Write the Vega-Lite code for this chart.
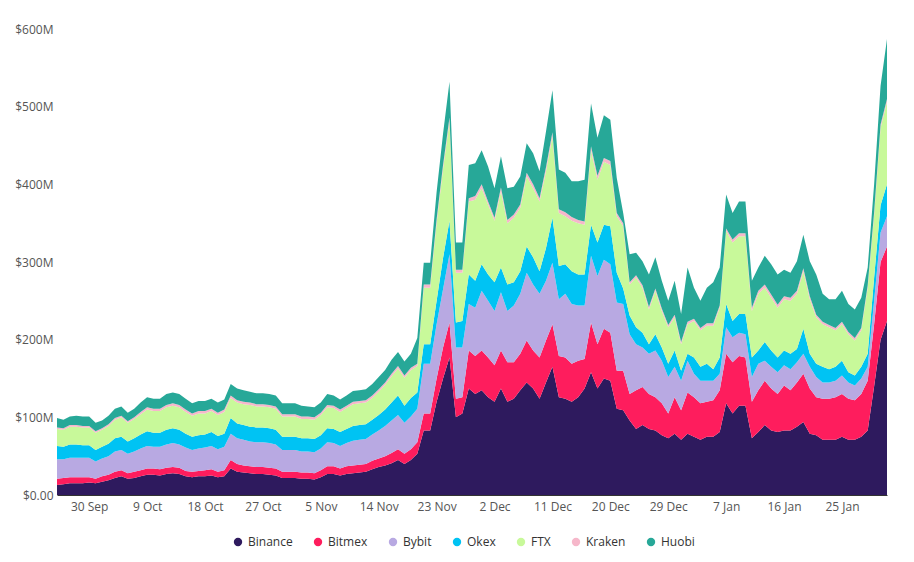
{
"$schema":"https://vega.github.io/schema/vega-lite/v6.json",
"width":830,"height":466,
"padding":{"left":14,"top":23,"right":20,"bottom":5},
"config":{"font":"Open Sans","view":{"stroke":null}},
"data":{"values":[
{"d":"2020-09-25","Binance":13,"Bitmex":8,"Bybit":25,"Okex":17,"FTX":22,"Kraken":2,"Huobi":12},
{"d":"2020-09-26","Binance":14,"Bitmex":8,"Bybit":24,"Okex":16,"FTX":22,"Kraken":2,"Huobi":11},
{"d":"2020-09-27","Binance":15,"Bitmex":8,"Bybit":25,"Okex":17,"FTX":23,"Kraken":2,"Huobi":11},
{"d":"2020-09-28","Binance":15,"Bitmex":8,"Bybit":25,"Okex":17,"FTX":23,"Kraken":2,"Huobi":12},
{"d":"2020-09-29","Binance":15,"Bitmex":8,"Bybit":25,"Okex":16,"FTX":23,"Kraken":2,"Huobi":12},
{"d":"2020-09-30","Binance":16,"Bitmex":7,"Bybit":25,"Okex":16,"FTX":23,"Kraken":2,"Huobi":12},
{"d":"2020-10-01","Binance":15,"Bitmex":6,"Bybit":22,"Okex":15,"FTX":22,"Kraken":2,"Huobi":11},
{"d":"2020-10-02","Binance":17,"Bitmex":7,"Bybit":23,"Okex":15,"FTX":22,"Kraken":2,"Huobi":10},
{"d":"2020-10-03","Binance":19,"Bitmex":7,"Bybit":24,"Okex":16,"FTX":23,"Kraken":2,"Huobi":11},
{"d":"2020-10-04","Binance":22,"Bitmex":8,"Bybit":26,"Okex":17,"FTX":24,"Kraken":2,"Huobi":12},
{"d":"2020-10-05","Binance":24,"Bitmex":8,"Bybit":26,"Okex":17,"FTX":25,"Kraken":2,"Huobi":12},
{"d":"2020-10-06","Binance":21,"Bitmex":7,"Bybit":25,"Okex":16,"FTX":24,"Kraken":2,"Huobi":11},
{"d":"2020-10-07","Binance":22,"Bitmex":8,"Bybit":26,"Okex":17,"FTX":25,"Kraken":2,"Huobi":11},
{"d":"2020-10-08","Binance":24,"Bitmex":8,"Bybit":28,"Okex":18,"FTX":26,"Kraken":3,"Huobi":12},
{"d":"2020-10-09","Binance":26,"Bitmex":8,"Bybit":29,"Okex":19,"FTX":28,"Kraken":3,"Huobi":13},
{"d":"2020-10-10","Binance":26,"Bitmex":8,"Bybit":28,"Okex":18,"FTX":28,"Kraken":3,"Huobi":13},
{"d":"2020-10-11","Binance":25,"Bitmex":8,"Bybit":29,"Okex":18,"FTX":28,"Kraken":3,"Huobi":13},
{"d":"2020-10-12","Binance":27,"Bitmex":8,"Bybit":30,"Okex":19,"FTX":29,"Kraken":3,"Huobi":14},
{"d":"2020-10-13","Binance":28,"Bitmex":8,"Bybit":31,"Okex":19,"FTX":29,"Kraken":3,"Huobi":14},
{"d":"2020-10-14","Binance":27,"Bitmex":8,"Bybit":30,"Okex":19,"FTX":29,"Kraken":3,"Huobi":14},
{"d":"2020-10-15","Binance":24,"Bitmex":7,"Bybit":30,"Okex":18,"FTX":28,"Kraken":3,"Huobi":14},
{"d":"2020-10-16","Binance":23,"Bitmex":7,"Bybit":28,"Okex":17,"FTX":27,"Kraken":3,"Huobi":13},
{"d":"2020-10-17","Binance":24,"Bitmex":7,"Bybit":29,"Okex":17,"FTX":28,"Kraken":3,"Huobi":13},
{"d":"2020-10-18","Binance":24,"Bitmex":8,"Bybit":29,"Okex":17,"FTX":27,"Kraken":3,"Huobi":13},
{"d":"2020-10-19","Binance":25,"Bitmex":8,"Bybit":30,"Okex":18,"FTX":27,"Kraken":3,"Huobi":13},
{"d":"2020-10-20","Binance":23,"Bitmex":7,"Bybit":29,"Okex":17,"FTX":27,"Kraken":3,"Huobi":13},
{"d":"2020-10-21","Binance":24,"Bitmex":8,"Bybit":30,"Okex":17,"FTX":28,"Kraken":3,"Huobi":13},
{"d":"2020-10-22","Binance":34,"Bitmex":11,"Bybit":34,"Okex":20,"FTX":26,"Kraken":3,"Huobi":15},
{"d":"2020-10-23","Binance":30,"Bitmex":10,"Bybit":33,"Okex":19,"FTX":27,"Kraken":3,"Huobi":15},
{"d":"2020-10-24","Binance":29,"Bitmex":9,"Bybit":33,"Okex":19,"FTX":27,"Kraken":3,"Huobi":15},
{"d":"2020-10-25","Binance":28,"Bitmex":9,"Bybit":32,"Okex":19,"FTX":28,"Kraken":3,"Huobi":14},
{"d":"2020-10-26","Binance":27,"Bitmex":9,"Bybit":32,"Okex":19,"FTX":27,"Kraken":3,"Huobi":14},
{"d":"2020-10-27","Binance":27,"Bitmex":9,"Bybit":32,"Okex":19,"FTX":27,"Kraken":3,"Huobi":14},
{"d":"2020-10-28","Binance":26,"Bitmex":9,"Bybit":32,"Okex":19,"FTX":27,"Kraken":3,"Huobi":14},
{"d":"2020-10-29","Binance":25,"Bitmex":9,"Bybit":31,"Okex":19,"FTX":27,"Kraken":3,"Huobi":14},
{"d":"2020-10-30","Binance":22,"Bitmex":8,"Bybit":28,"Okex":17,"FTX":26,"Kraken":3,"Huobi":14},
{"d":"2020-10-31","Binance":22,"Bitmex":8,"Bybit":28,"Okex":17,"FTX":26,"Kraken":3,"Huobi":14},
{"d":"2020-11-01","Binance":22,"Bitmex":8,"Bybit":28,"Okex":17,"FTX":26,"Kraken":3,"Huobi":14},
{"d":"2020-11-02","Binance":21,"Bitmex":8,"Bybit":27,"Okex":17,"FTX":25,"Kraken":3,"Huobi":14},
{"d":"2020-11-03","Binance":21,"Bitmex":8,"Bybit":27,"Okex":17,"FTX":25,"Kraken":3,"Huobi":13},
{"d":"2020-11-04","Binance":20,"Bitmex":8,"Bybit":27,"Okex":17,"FTX":25,"Kraken":3,"Huobi":13},
{"d":"2020-11-05","Binance":23,"Bitmex":9,"Bybit":28,"Okex":17,"FTX":26,"Kraken":3,"Huobi":13},
{"d":"2020-11-06","Binance":27,"Bitmex":10,"Bybit":31,"Okex":18,"FTX":27,"Kraken":3,"Huobi":14},
{"d":"2020-11-07","Binance":27,"Bitmex":10,"Bybit":30,"Okex":18,"FTX":27,"Kraken":3,"Huobi":13},
{"d":"2020-11-08","Binance":25,"Bitmex":9,"Bybit":29,"Okex":18,"FTX":26,"Kraken":3,"Huobi":13},
{"d":"2020-11-09","Binance":27,"Bitmex":10,"Bybit":30,"Okex":18,"FTX":27,"Kraken":3,"Huobi":13},
{"d":"2020-11-10","Binance":28,"Bitmex":10,"Bybit":32,"Okex":19,"FTX":28,"Kraken":3,"Huobi":14},
{"d":"2020-11-11","Binance":29,"Bitmex":10,"Bybit":32,"Okex":19,"FTX":28,"Kraken":3,"Huobi":14},
{"d":"2020-11-12","Binance":30,"Bitmex":10,"Bybit":32,"Okex":19,"FTX":28,"Kraken":3,"Huobi":14},
{"d":"2020-11-13","Binance":33,"Bitmex":11,"Bybit":34,"Okex":19,"FTX":28,"Kraken":3,"Huobi":15},
{"d":"2020-11-14","Binance":36,"Bitmex":11,"Bybit":36,"Okex":20,"FTX":30,"Kraken":3,"Huobi":16},
{"d":"2020-11-15","Binance":38,"Bitmex":12,"Bybit":39,"Okex":21,"FTX":32,"Kraken":3,"Huobi":16},
{"d":"2020-11-16","Binance":41,"Bitmex":13,"Bybit":42,"Okex":23,"FTX":34,"Kraken":3,"Huobi":18},
{"d":"2020-11-17","Binance":45,"Bitmex":14,"Bybit":44,"Okex":25,"FTX":35,"Kraken":3,"Huobi":18},
{"d":"2020-11-18","Binance":40,"Bitmex":13,"Bybit":40,"Okex":22,"FTX":36,"Kraken":3,"Huobi":18},
{"d":"2020-11-19","Binance":45,"Bitmex":14,"Bybit":42,"Okex":24,"FTX":36,"Kraken":3,"Huobi":18},
{"d":"2020-11-20","Binance":53,"Bitmex":15,"Bybit":43,"Okex":21,"FTX":34,"Kraken":3,"Huobi":33},
{"d":"2020-11-21","Binance":83,"Bitmex":22,"Bybit":64,"Okex":25,"FTX":73,"Kraken":4,"Huobi":28},
{"d":"2020-11-22","Binance":83,"Bitmex":22,"Bybit":64,"Okex":25,"FTX":73,"Kraken":4,"Huobi":28},
{"d":"2020-11-23","Binance":120,"Bitmex":30,"Bybit":70,"Okex":30,"FTX":100,"Kraken":5,"Huobi":35},
{"d":"2020-11-24","Binance":150,"Bitmex":40,"Bybit":75,"Okex":40,"FTX":115,"Kraken":5,"Huobi":40},
{"d":"2020-11-25","Binance":177,"Bitmex":45,"Bybit":88,"Okex":43,"FTX":128,"Kraken":5,"Huobi":46},
{"d":"2020-11-26","Binance":100,"Bitmex":24,"Bybit":66,"Okex":32,"FTX":64,"Kraken":4,"Huobi":35},
{"d":"2020-11-27","Binance":105,"Bitmex":21,"Bybit":64,"Okex":34,"FTX":62,"Kraken":4,"Huobi":35},
{"d":"2020-11-28","Binance":137,"Bitmex":49,"Bybit":60,"Okex":38,"FTX":94,"Kraken":4,"Huobi":43},
{"d":"2020-11-29","Binance":130,"Bitmex":49,"Bybit":62,"Okex":35,"FTX":104,"Kraken":5,"Huobi":42},
{"d":"2020-11-30","Binance":135,"Bitmex":51,"Bybit":77,"Okex":34,"FTX":98,"Kraken":5,"Huobi":44},
{"d":"2020-12-01","Binance":126,"Bitmex":51,"Bybit":73,"Okex":34,"FTX":90,"Kraken":4,"Huobi":45},
{"d":"2020-12-02","Binance":120,"Bitmex":47,"Bybit":70,"Okex":37,"FTX":79,"Kraken":4,"Huobi":38},
{"d":"2020-12-03","Binance":137,"Bitmex":49,"Bybit":75,"Okex":32,"FTX":98,"Kraken":5,"Huobi":40},
{"d":"2020-12-04","Binance":120,"Bitmex":51,"Bybit":66,"Okex":34,"FTX":79,"Kraken":4,"Huobi":41},
{"d":"2020-12-05","Binance":124,"Bitmex":47,"Bybit":73,"Okex":30,"FTX":83,"Kraken":4,"Huobi":36},
{"d":"2020-12-06","Binance":135,"Bitmex":47,"Bybit":77,"Okex":29,"FTX":82,"Kraken":4,"Huobi":36},
{"d":"2020-12-07","Binance":145,"Bitmex":54,"Bybit":87,"Okex":34,"FTX":90,"Kraken":5,"Huobi":38},
{"d":"2020-12-08","Binance":137,"Bitmex":49,"Bybit":85,"Okex":35,"FTX":89,"Kraken":5,"Huobi":40},
{"d":"2020-12-09","Binance":124,"Bitmex":53,"Bybit":82,"Okex":29,"FTX":90,"Kraken":4,"Huobi":35},
{"d":"2020-12-10","Binance":145,"Bitmex":54,"Bybit":77,"Okex":42,"FTX":99,"Kraken":5,"Huobi":46},
{"d":"2020-12-11","Binance":165,"Bitmex":55,"Bybit":79,"Okex":58,"FTX":105,"Kraken":5,"Huobi":54},
{"d":"2020-12-12","Binance":126,"Bitmex":53,"Bybit":73,"Okex":43,"FTX":68,"Kraken":5,"Huobi":51},
{"d":"2020-12-13","Binance":124,"Bitmex":53,"Bybit":82,"Okex":38,"FTX":62,"Kraken":5,"Huobi":51},
{"d":"2020-12-14","Binance":120,"Bitmex":49,"Bybit":77,"Okex":42,"FTX":65,"Kraken":5,"Huobi":46},
{"d":"2020-12-15","Binance":126,"Bitmex":47,"Bybit":71,"Okex":40,"FTX":66,"Kraken":4,"Huobi":50},
{"d":"2020-12-16","Binance":137,"Bitmex":38,"Bybit":69,"Okex":40,"FTX":64,"Kraken":4,"Huobi":54},
{"d":"2020-12-17","Binance":158,"Bitmex":64,"Bybit":86,"Okex":40,"FTX":96,"Kraken":5,"Huobi":55},
{"d":"2020-12-18","Binance":137,"Bitmex":57,"Bybit":88,"Okex":43,"FTX":81,"Kraken":5,"Huobi":49},
{"d":"2020-12-19","Binance":150,"Bitmex":64,"Bybit":89,"Okex":45,"FTX":81,"Kraken":5,"Huobi":55},
{"d":"2020-12-20","Binance":147,"Bitmex":62,"Bybit":88,"Okex":49,"FTX":79,"Kraken":5,"Huobi":53},
{"d":"2020-12-21","Binance":111,"Bitmex":49,"Bybit":88,"Okex":38,"FTX":73,"Kraken":4,"Huobi":45},
{"d":"2020-12-22","Binance":109,"Bitmex":51,"Bybit":86,"Okex":20,"FTX":80,"Kraken":4,"Huobi":13},
{"d":"2020-12-23","Binance":96,"Bitmex":34,"Bybit":77,"Okex":24,"FTX":40,"Kraken":3,"Huobi":36},
{"d":"2020-12-24","Binance":85,"Bitmex":50,"Bybit":59,"Okex":22,"FTX":64,"Kraken":3,"Huobi":29},
{"d":"2020-12-25","Binance":90,"Bitmex":49,"Bybit":51,"Okex":19,"FTX":58,"Kraken":3,"Huobi":31},
{"d":"2020-12-26","Binance":85,"Bitmex":45,"Bybit":52,"Okex":12,"FTX":45,"Kraken":3,"Huobi":42},
{"d":"2020-12-27","Binance":83,"Bitmex":43,"Bybit":60,"Okex":21,"FTX":56,"Kraken":3,"Huobi":40},
{"d":"2020-12-28","Binance":77,"Bitmex":41,"Bybit":55,"Okex":17,"FTX":47,"Kraken":3,"Huobi":36},
{"d":"2020-12-29","Binance":73,"Bitmex":32,"Bybit":47,"Okex":17,"FTX":47,"Kraken":3,"Huobi":31},
{"d":"2020-12-30","Binance":79,"Bitmex":47,"Bybit":39,"Okex":21,"FTX":43,"Kraken":3,"Huobi":44},
{"d":"2020-12-31","Binance":71,"Bitmex":38,"Bybit":38,"Okex":13,"FTX":34,"Kraken":3,"Huobi":36},
{"d":"2021-01-01","Binance":79,"Bitmex":53,"Bybit":41,"Okex":9,"FTX":38,"Kraken":3,"Huobi":70},
{"d":"2021-01-02","Binance":75,"Bitmex":51,"Bybit":30,"Okex":21,"FTX":47,"Kraken":3,"Huobi":40},
{"d":"2021-01-03","Binance":71,"Bitmex":47,"Bybit":29,"Okex":18,"FTX":47,"Kraken":3,"Huobi":35},
{"d":"2021-01-04","Binance":75,"Bitmex":45,"Bybit":27,"Okex":22,"FTX":49,"Kraken":3,"Huobi":46},
{"d":"2021-01-05","Binance":75,"Bitmex":47,"Bybit":25,"Okex":15,"FTX":56,"Kraken":3,"Huobi":53},
{"d":"2021-01-06","Binance":81,"Bitmex":54,"Bybit":21,"Okex":21,"FTX":64,"Kraken":3,"Huobi":49},
{"d":"2021-01-07","Binance":118,"Bitmex":64,"Bybit":34,"Okex":30,"FTX":94,"Kraken":3,"Huobi":44},
{"d":"2021-01-08","Binance":105,"Bitmex":66,"Bybit":32,"Okex":21,"FTX":101,"Kraken":4,"Huobi":34},
{"d":"2021-01-09","Binance":115,"Bitmex":64,"Bybit":30,"Okex":24,"FTX":100,"Kraken":4,"Huobi":41},
{"d":"2021-01-10","Binance":115,"Bitmex":62,"Bybit":30,"Okex":26,"FTX":100,"Kraken":4,"Huobi":41},
{"d":"2021-01-11","Binance":73,"Bitmex":47,"Bybit":32,"Okex":25,"FTX":60,"Kraken":4,"Huobi":35},
{"d":"2021-01-12","Binance":81,"Bitmex":54,"Bybit":34,"Okex":17,"FTX":73,"Kraken":4,"Huobi":30},
{"d":"2021-01-13","Binance":90,"Bitmex":57,"Bybit":26,"Okex":24,"FTX":70,"Kraken":4,"Huobi":37},
{"d":"2021-01-14","Binance":83,"Bitmex":54,"Bybit":28,"Okex":21,"FTX":68,"Kraken":4,"Huobi":39},
{"d":"2021-01-15","Binance":81,"Bitmex":49,"Bybit":28,"Okex":19,"FTX":64,"Kraken":4,"Huobi":39},
{"d":"2021-01-16","Binance":83,"Bitmex":58,"Bybit":26,"Okex":19,"FTX":66,"Kraken":4,"Huobi":34},
{"d":"2021-01-17","Binance":83,"Bitmex":52,"Bybit":27,"Okex":20,"FTX":68,"Kraken":4,"Huobi":32},
{"d":"2021-01-18","Binance":88,"Bitmex":57,"Bybit":26,"Okex":17,"FTX":71,"Kraken":4,"Huobi":38},
{"d":"2021-01-19","Binance":94,"Bitmex":62,"Bybit":26,"Okex":32,"FTX":74,"Kraken":4,"Huobi":43},
{"d":"2021-01-20","Binance":79,"Bitmex":58,"Bybit":28,"Okex":17,"FTX":70,"Kraken":4,"Huobi":45},
{"d":"2021-01-21","Binance":77,"Bitmex":49,"Bybit":26,"Okex":17,"FTX":60,"Kraken":3,"Huobi":52},
{"d":"2021-01-22","Binance":71,"Bitmex":53,"Bybit":21,"Okex":20,"FTX":55,"Kraken":3,"Huobi":36},
{"d":"2021-01-23","Binance":71,"Bitmex":53,"Bybit":21,"Okex":17,"FTX":54,"Kraken":3,"Huobi":33},
{"d":"2021-01-24","Binance":71,"Bitmex":55,"Bybit":21,"Okex":18,"FTX":47,"Kraken":3,"Huobi":37},
{"d":"2021-01-25","Binance":75,"Bitmex":55,"Bybit":24,"Okex":19,"FTX":47,"Kraken":3,"Huobi":40},
{"d":"2021-01-26","Binance":71,"Bitmex":53,"Bybit":21,"Okex":13,"FTX":49,"Kraken":3,"Huobi":36},
{"d":"2021-01-27","Binance":71,"Bitmex":51,"Bybit":19,"Okex":13,"FTX":45,"Kraken":3,"Huobi":37},
{"d":"2021-01-28","Binance":75,"Bitmex":55,"Bybit":20,"Okex":15,"FTX":47,"Kraken":3,"Huobi":39},
{"d":"2021-01-29","Binance":83,"Bitmex":64,"Bybit":18,"Okex":17,"FTX":85,"Kraken":3,"Huobi":23},
{"d":"2021-01-30","Binance":140,"Bitmex":80,"Bybit":30,"Okex":30,"FTX":80,"Kraken":4,"Huobi":36},
{"d":"2021-01-31","Binance":200,"Bitmex":100,"Bybit":38,"Okex":35,"FTX":100,"Kraken":4,"Huobi":50},
{"d":"2021-02-01","Binance":224,"Bitmex":96,"Bybit":39,"Okex":41,"FTX":106,"Kraken":4,"Huobi":77}
]},
"transform":[
{"fold":["Binance","Bitmex","Bybit","Okex","FTX","Kraken","Huobi"],"as":["Exchange","value"]},
{"calculate":"datum.Exchange=='Binance'?0:datum.Exchange=='Bitmex'?1:datum.Exchange=='Bybit'?2:datum.Exchange=='Okex'?3:datum.Exchange=='FTX'?4:datum.Exchange=='Kraken'?5:6","as":"ord"}
],
"mark":{"type":"area","interpolate":"linear"},
"encoding":{
"x":{"field":"d","type":"temporal","title":null,
"scale":{"domain":[{"year":2020,"month":9,"date":25},{"year":2021,"month":2,"date":1}]},
"axis":{"values":[{"year":2020,"month":9,"date":30},{"year":2020,"month":10,"date":9},{"year":2020,"month":10,"date":18},{"year":2020,"month":10,"date":27},{"year":2020,"month":11,"date":5},{"year":2020,"month":11,"date":14},{"year":2020,"month":11,"date":23},{"year":2020,"month":12,"date":2},{"year":2020,"month":12,"date":11},{"year":2020,"month":12,"date":20},{"year":2020,"month":12,"date":29},{"year":2021,"month":1,"date":7},{"year":2021,"month":1,"date":16},{"year":2021,"month":1,"date":25}],
"format":"%-d %b","labelFontSize":12,"labelColor":"#555","domainColor":"#333","ticks":false,"grid":false,"labelPadding":6}},
"y":{"field":"value","type":"quantitative","stack":"zero","title":null,
"scale":{"domain":[0,600],"nice":false},
"axis":{"values":[0,100,200,300,400,500,600],"labelExpr":"datum.value==0?'$0.00':'$'+datum.value+'M'","grid":false,"domain":false,"ticks":false,"labelFontSize":12,"labelColor":"#555","labelPadding":4}},
"color":{"field":"Exchange","type":"nominal","sort":["Binance","Bitmex","Bybit","Okex","FTX","Kraken","Huobi"],
"scale":{"domain":["Binance","Bitmex","Bybit","Okex","FTX","Kraken","Huobi"],"range":["#2e1a5e","#fe1d5d","#b8a9e2","#00c3f3","#c8f99a","#f6b7ca","#27a898"]},
"legend":{"orient":"none","legendX":175,"legendY":507,"direction":"horizontal","title":null,"symbolType":"circle","symbolSize":70,"labelFontSize":12,"labelColor":"#333","columnPadding":19}},
"order":{"field":"ord","type":"quantitative"}
}
}
